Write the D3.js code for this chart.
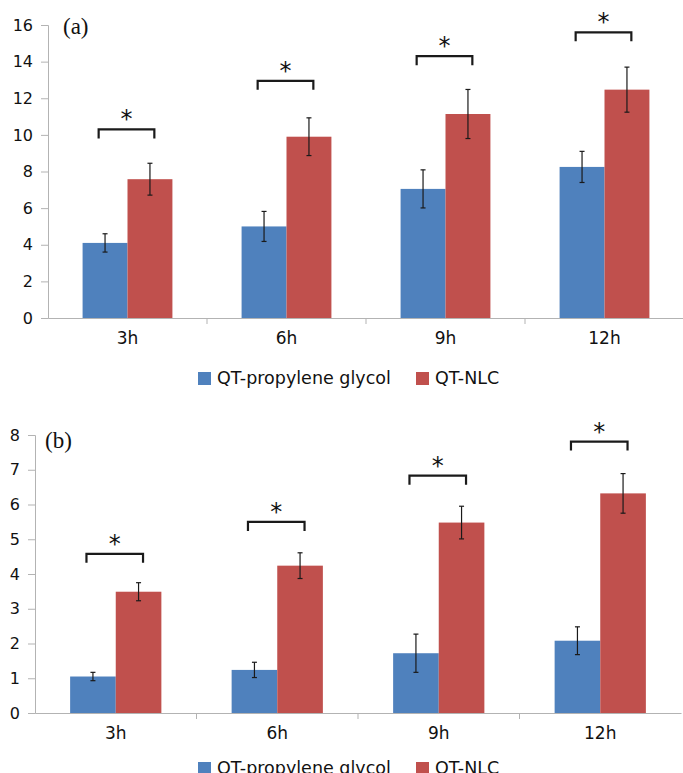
<!DOCTYPE html>
<html>
<head>
<meta charset="utf-8">
<script src="https://cdn.jsdelivr.net/npm/d3@7"></script>
<style>
  body { margin: 0; background: #fff; }
  text { font-family: "DejaVu Sans", sans-serif; fill: #111; }
</style>
</head>
<body>
<div id="chart"></div>
<script>
// data
const categories = ["3h", "6h", "9h", "12h"];
const seriesNames = ["QT-propylene glycol", "QT-NLC"];
const colors = ["#4f81bd", "#c0504d"];

// panel (a)
const aTicks = [0, 2, 4, 6, 8, 10, 12, 14, 16];
const aGlycol = [4.1, 5.0, 7.05, 8.25];
const aGlycolErr = [0.5, 0.82, 1.04, 0.85];
const aNlc = [7.58, 9.9, 11.14, 12.47];
const aNlcErr = [0.87, 1.03, 1.34, 1.23];
const aSig = [10.3, 12.95, 14.3, 15.6];

// panel (b)
const bTicks = [0, 1, 2, 3, 4, 5, 6, 7, 8];
const bGlycol = [1.05, 1.24, 1.72, 2.08];
const bGlycolErr = [0.12, 0.22, 0.55, 0.4];
const bNlc = [3.49, 4.24, 5.48, 6.32];
const bNlcErr = [0.26, 0.37, 0.47, 0.57];
const bSig = [4.58, 5.5, 6.83, 7.81];

const width = 683, height = 773;

let svg = d3.select("#chart")
    .append("svg")
    .attr("width", width)
    .attr("height", height);

function drawPanel(opt) {
    let g = svg.append("g");

    let x0 = d3.scaleBand()
        .domain(categories)
        .range([opt.left, opt.right]);

    let x1 = d3.scaleBand()
        .domain(seriesNames)
        .range([0, x0.bandwidth()])
        .paddingOuter(0.77);

    let y = d3.scaleLinear()
        .domain([0, d3.max(opt.ticks)])
        .range([opt.bottom, opt.top]);

    let rows = categories.map((c, i) => ({
        cat: c,
        vals: [
            { s: seriesNames[0], v: opt.glycol[i], e: opt.glycolErr[i] },
            { s: seriesNames[1], v: opt.nlc[i], e: opt.nlcErr[i] }
        ],
        sig: opt.sig[i]
    }));

    // y axis
    let yAxis = g.append("g")
        .attr("transform", `translate(${opt.left},0)`)
        .call(d3.axisLeft(y).tickValues(opt.ticks).tickSize(7).tickPadding(8));
    yAxis.selectAll("line, path").attr("stroke", "#b3b3b3");
    yAxis.selectAll("text").style("font-size", "16px").attr("fill", "#111");

    // bars
    let groups = g.selectAll(".grp")
        .data(rows)
        .enter()
        .append("g")
        .attr("transform", d => `translate(${x0(d.cat)},0)`);

    groups.selectAll("rect")
        .data(d => d.vals)
        .enter()
        .append("rect")
        .attr("x", d => x1(d.s))
        .attr("y", d => y(d.v))
        .attr("width", x1.bandwidth())
        .attr("height", d => y(0) - y(d.v))
        .attr("fill", (d, i) => colors[i]);

    // x axis (drawn over bar bottoms)
    let xAxis = g.append("g")
        .attr("transform", `translate(0,${opt.bottom})`)
        .call(d3.axisBottom(x0).tickSize(0).tickPadding(14));
    xAxis.select("path").attr("stroke", "#b3b3b3");
    xAxis.selectAll("text").style("font-size", "17px").attr("fill", "#111");
    // category dividers
    g.selectAll(".divider")
        .data(categories.slice(1))
        .enter()
        .append("line")
        .attr("x1", d => x0(d))
        .attr("x2", d => x0(d))
        .attr("y1", opt.bottom)
        .attr("y2", opt.bottom + 6)
        .attr("stroke", "#b3b3b3");

    // error bars
    let errs = groups.selectAll(".err")
        .data(d => d.vals)
        .enter()
        .append("g")
        .attr("stroke", "#1a1a1a")
        .attr("stroke-width", 1.2);
    errs.append("line")
        .attr("x1", d => x1(d.s) + x1.bandwidth() / 2)
        .attr("x2", d => x1(d.s) + x1.bandwidth() / 2)
        .attr("y1", d => y(d.v + d.e))
        .attr("y2", d => y(d.v - d.e));
    errs.selectAll(".cap")
        .data(d => [d, { s: d.s, v: d.v - 2 * d.e, e: d.e }])
        .enter()
        .append("line")
        .attr("x1", d => x1(d.s) + x1.bandwidth() / 2 - 2.5)
        .attr("x2", d => x1(d.s) + x1.bandwidth() / 2 + 2.5)
        .attr("y1", d => y(d.v + d.e))
        .attr("y2", d => y(d.v + d.e));

    // significance brackets
    let half = x1.bandwidth() * 0.62;
    let mid = x0.bandwidth() / 2 - 1;
    groups.append("path")
        .attr("d", d => `M${mid - half},${y(d.sig) + 9}V${y(d.sig)}H${mid + half}V${y(d.sig) + 9}`)
        .attr("fill", "none")
        .attr("stroke", "#1a1a1a")
        .attr("stroke-width", 2.2);
    groups.append("text")
        .attr("x", mid)
        .attr("y", d => y(d.sig) - 2)
        .attr("text-anchor", "middle")
        .style("font-size", "24px")
        .text("*");

    // panel label
    svg.append("text")
        .attr("x", opt.labelX)
        .attr("y", opt.labelY)
        .style("font-family", "'Liberation Serif', serif")
        .style("font-size", "23px")
        .text(opt.label);

    // legend
    let legend = svg.append("g")
        .attr("transform", `translate(0,${opt.legendY})`);
    let legendX = [198, 416];
    seriesNames.forEach((s, i) => {
        legend.append("rect")
            .attr("x", legendX[i])
            .attr("y", -6)
            .attr("width", 13)
            .attr("height", 13)
            .attr("fill", colors[i]);
        legend.append("text")
            .attr("x", legendX[i] + 19)
            .attr("y", 0)
            .attr("dy", "0.36em")
            .style("font-size", "17.5px")
            .text(s);
    });
}

drawPanel({
    left: 48, right: 684, top: 25, bottom: 318,
    ticks: aTicks, glycol: aGlycol, glycolErr: aGlycolErr,
    nlc: aNlc, nlcErr: aNlcErr, sig: aSig,
    label: "(a)", labelX: 63, labelY: 34, legendY: 378
});

drawPanel({
    left: 35, right: 681, top: 435, bottom: 713,
    ticks: bTicks, glycol: bGlycol, glycolErr: bGlycolErr,
    nlc: bNlc, nlcErr: bNlcErr, sig: bSig,
    label: "(b)", labelX: 45, labelY: 448, legendY: 768
});
</script>
</body>
</html>
